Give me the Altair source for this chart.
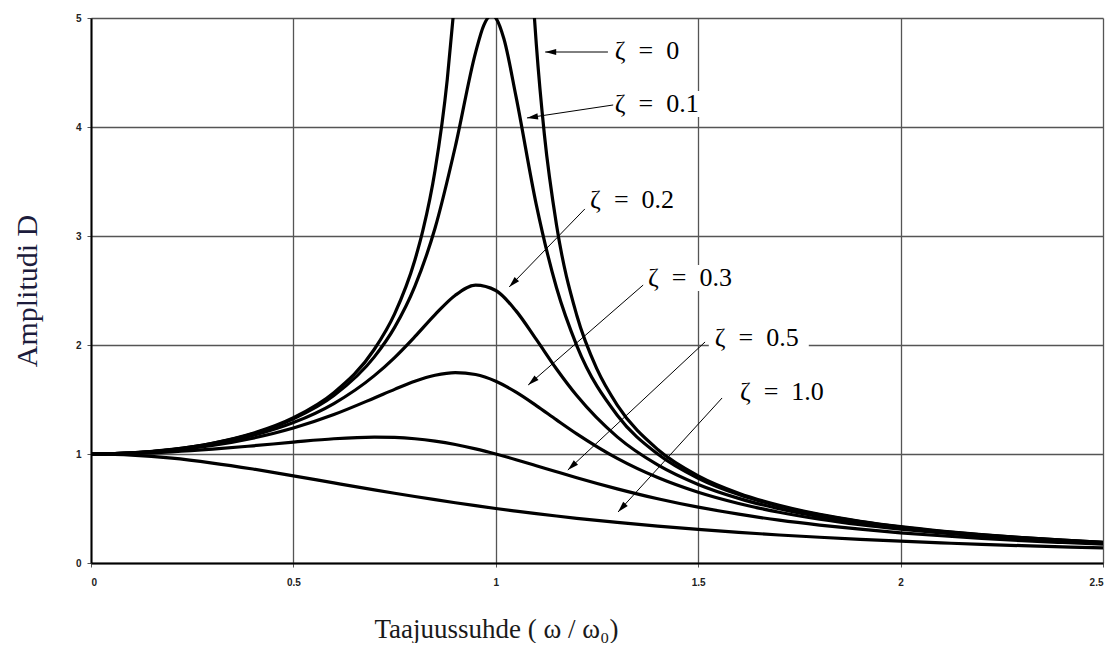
import math
import altair as alt
import pandas as pd

# ---------------- data ----------------
# damping ratio zeta = 0 (two branches around the resonance)
Z0A_R = [0, 0.1, 0.2, 0.3, 0.4, 0.5, 0.6, 0.7, 0.75, 0.8, 0.82, 0.85, 0.88, 0.895]
Z0A_D = [1.0, 1.010, 1.042, 1.099, 1.190, 1.333, 1.563, 1.961, 2.286, 2.778, 3.053, 3.604, 4.433, 5.026]
Z0B_R = [1.095, 1.1, 1.12, 1.15, 1.2, 1.25, 1.3, 1.4, 1.5, 1.6, 1.7, 1.8, 1.9, 2.0, 2.1, 2.2, 2.3, 2.4, 2.5]
Z0B_D = [5.024, 4.762, 3.931, 3.101, 2.273, 1.778, 1.449, 1.042, 0.800, 0.641, 0.529, 0.446, 0.383,
         0.333, 0.293, 0.260, 0.233, 0.210, 0.190]

# zeta = 0.1
Z01_R = [0, 0.1, 0.2, 0.3, 0.4, 0.5, 0.6, 0.7, 0.75, 0.8, 0.85, 0.9, 0.95, 0.97, 0.99, 1.0, 1.02, 1.05,
         1.1, 1.15, 1.2, 1.3, 1.4, 1.5, 1.6, 1.7, 1.8, 1.9, 2.0, 2.1, 2.2, 2.3, 2.4, 2.5]
Z01_D = [1.0, 1.010, 1.041, 1.097, 1.185, 1.322, 1.536, 1.891, 2.162, 2.538, 3.073, 3.821, 4.683, 4.931,
         5.025, 5.0, 4.809, 4.279, 3.288, 2.525, 1.995, 1.356, 1.0, 0.778, 0.628, 0.521, 0.441, 0.379,
         0.330, 0.291, 0.259, 0.232, 0.209, 0.190]

# common frequency-ratio grid for the other curves
R = [0, 0.1, 0.2, 0.3, 0.4, 0.5, 0.6, 0.7, 0.75, 0.8, 0.85, 0.9, 0.95, 1.0, 1.05, 1.1, 1.15, 1.2,
     1.3, 1.4, 1.5, 1.6, 1.7, 1.8, 1.9, 2.0, 2.1, 2.2, 2.3, 2.4, 2.5]
Z02_D = [1.0, 1.009, 1.038, 1.090, 1.170, 1.288, 1.463, 1.719, 1.885, 2.076, 2.279, 2.457, 2.549, 2.500,
         2.313, 2.051, 1.780, 1.536, 1.157, 0.900, 0.721, 0.593, 0.498, 0.425, 0.368, 0.322, 0.285,
         0.254, 0.228, 0.206, 0.187]
Z03_D = [1.0, 1.008, 1.034, 1.078, 1.145, 1.238, 1.362, 1.514, 1.593, 1.667, 1.722, 1.747, 1.729, 1.667,
         1.567, 1.444, 1.313, 1.185, 0.960, 0.784, 0.649, 0.546, 0.466, 0.402, 0.351, 0.310, 0.275,
         0.246, 0.222, 0.201, 0.183]
Z05_D = [1.0, 1.005, 1.020, 1.044, 1.075, 1.109, 1.140, 1.155, 1.152, 1.140, 1.118, 1.087, 1.047, 1.0,
         0.948, 0.893, 0.837, 0.782, 0.680, 0.589, 0.512, 0.448, 0.393, 0.348, 0.310, 0.277, 0.250,
         0.226, 0.205, 0.188, 0.172]
Z10_D = [1.0, 0.990, 0.962, 0.917, 0.862, 0.8, 0.735, 0.671, 0.640, 0.610, 0.581, 0.553, 0.526, 0.5,
         0.476, 0.453, 0.431, 0.410, 0.372, 0.338, 0.308, 0.281, 0.257, 0.236, 0.217, 0.2, 0.185,
         0.171, 0.159, 0.148, 0.138]

# annotations
SP = "\u00a0\u00a0"
LABELS = ["ζ" + SP + "=" + SP + v for v in ["0", "0.1", "0.2", "0.3", "0.5", "1.0"]]
LABEL_X = [1.294, 1.294, 1.233, 1.376, 1.541, 1.603]
LABEL_Y = [4.70, 4.21, 3.33, 2.615, 2.064, 1.569]
ARROW_X0 = [1.277, 1.290, 1.220, 1.364, 1.517, 1.559]
ARROW_Y0 = [4.688, 4.202, 3.248, 2.550, 2.028, 1.514]
ARROW_X1 = [1.122, 1.077, 1.033, 1.080, 1.178, 1.302]
ARROW_Y1 = [4.688, 4.083, 2.532, 1.633, 0.853, 0.468]

X_TICKS = [0, 0.5, 1, 1.5, 2, 2.5]
Y_TICKS = [0, 1, 2, 3, 4, 5]

# ---------------- layout ----------------
W, H = 1012, 545
XMAX, YMAX = 2.5, 5.0
PXU = W / XMAX
PYU = H / YMAX
BOX_W_PX = [72, 94, 94, 94, 94, 94]
BOX_H_PX = 26

rows = []
for name, rs, ds in [("z0a", Z0A_R, Z0A_D), ("z0b", Z0B_R, Z0B_D), ("z01", Z01_R, Z01_D),
                     ("z02", R, Z02_D), ("z03", R, Z03_D), ("z05", R, Z05_D), ("z10", R, Z10_D)]:
    for r, d in zip(rs, ds):
        rows.append({"s": name, "r": r, "d": d})
curves = pd.DataFrame(rows)

ann = pd.DataFrame({
    "label": LABELS, "lx": LABEL_X, "ly": LABEL_Y,
    "x0": ARROW_X0, "y0": ARROW_Y0, "x1": ARROW_X1, "y1": ARROW_Y1,
})
ann["bx0"] = ann["lx"] - 6 / PXU
ann["bx1"] = ann["lx"] + pd.Series(BOX_W_PX) / PXU
ann["by0"] = ann["ly"] - (BOX_H_PX / 2) / PYU
ann["by1"] = ann["ly"] + (BOX_H_PX / 2) / PYU
angs = []
for a in range(len(ann)):
    dx = (ann.x1[a] - ann.x0[a]) * PXU
    dy = -(ann.y1[a] - ann.y0[a]) * PYU
    angs.append(math.degrees(math.atan2(dx, -dy)) % 360)
ann["ang"] = angs

xs = alt.Scale(domain=[0, XMAX], nice=False, zero=False)
ys = alt.Scale(domain=[0, YMAX], nice=False, zero=False)

xaxis = alt.Axis(values=X_TICKS, format="~g", title="Taajuussuhde ( ω / ω₀)",
                 titleX=405, titleAlign="center", titlePadding=29, titleFontSize=27,
                 labelFontSize=10, labelFont="Liberation Sans", labelFontWeight="bold",
                 labelPadding=10, labelColor="#222")
yaxis = alt.Axis(values=Y_TICKS, format="d", title="Amplitudi D", titlePadding=33,
                 titleFontSize=30,
                 labelFontSize=10, labelFont="Liberation Sans", labelFontWeight="bold",
                 labelPadding=6, labelColor="#222", titleColor="#1c1c3c")

lines = alt.Chart(curves).mark_line(clip=True, interpolate="monotone", color="black",
                                    strokeWidth=3.2).encode(
    x=alt.X("r:Q", scale=xs, axis=xaxis),
    y=alt.Y("d:Q", scale=ys, axis=yaxis),
    detail="s:N",
)

boxes = alt.Chart(ann).mark_rect(color="white").encode(
    x=alt.X("bx0:Q", scale=xs), x2="bx1:Q",
    y=alt.Y("by0:Q", scale=ys), y2="by1:Q",
)

arrows = alt.Chart(ann).mark_rule(color="black", strokeWidth=1).encode(
    x=alt.X("x0:Q", scale=xs), x2="x1:Q",
    y=alt.Y("y0:Q", scale=ys), y2="y1:Q",
)

heads = alt.Chart(ann).mark_point(
    shape="M0,0L0.45,1.6L-0.45,1.6Z", filled=True, color="black", opacity=1, size=190
).encode(
    x=alt.X("x1:Q", scale=xs), y=alt.Y("y1:Q", scale=ys),
    angle=alt.Angle("ang:Q", scale=None),
)

texts = alt.Chart(ann).mark_text(align="left", baseline="middle", font="Liberation Serif",
                                 fontSize=26, color="black").encode(
    x=alt.X("lx:Q", scale=xs), y=alt.Y("ly:Q", scale=ys), text="label:N",
)

chart = alt.layer(boxes, lines, arrows, heads, texts).properties(
    width=W, height=H,
    autosize=alt.AutoSizeParams(type="none"),
    padding={"left": 83, "top": 10, "right": 3, "bottom": 80},
).configure_axis(
    grid=True, gridColor="#555", gridWidth=1.3, gridOpacity=1,
    domainColor="black", domainWidth=2,
    tickColor="#555", tickSize=4,
    titleFont="Liberation Serif", titleFontWeight="normal", titleColor="#1a1a1a",
).configure_view(stroke=None)

chart.save("out.html", embed_options={"renderer": "svg", "actions": False})
